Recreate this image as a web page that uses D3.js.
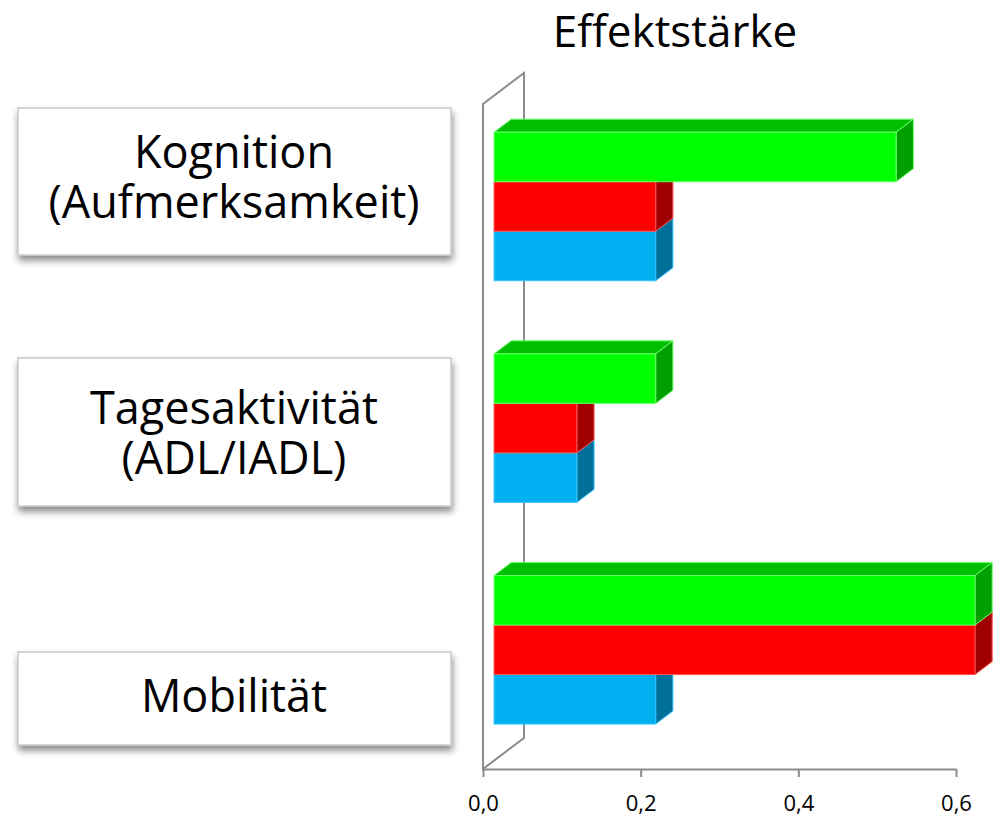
<!DOCTYPE html>
<html>
<head>
<meta charset="utf-8">
<script src="https://cdn.jsdelivr.net/npm/d3@7"></script>
<style>
  html, body { margin: 0; padding: 0; background: #fff; }
  svg { display: block; font-family: "Open Sans", sans-serif; }
</style>
</head>
<body>
<div id="stage"></div>
<script>
(function(d3) {
    'use strict';

    // categories, top to bottom
    var categories = ['Kognition', 'Tagesaktivität', 'Mobilität'];
    var categoryLines = [
        ['Kognition', '(Aufmerksamkeit)'],
        ['Tagesaktivität', '(ADL/IADL)'],
        ['Mobilität']
    ];
    // series, bottom to top inside each group
    var seriesNames = ['Serie 1', 'Serie 2', 'Serie 3'];
    var serie1 = [0.205, 0.105, 0.205];
    var serie2 = [0.205, 0.105, 0.61];
    var serie3 = [0.51, 0.205, 0.61];
    var xTicks = [0, 0.2, 0.4, 0.6];
    var title = 'Effektstärke';

    var seriesValues = [serie1, serie2, serie3];
    var faceColors = ['#00b0f0', '#ff0000', '#00ff00'];
    var topColors = ['#0090c4', '#c00000', '#00bf00'];
    var sideColors = ['#00709a', '#a00000', '#00a000'];
    var edgeColors = ['#33c4ff', '#ff5050', '#66ff66'];

    var width = 1000, height = 817;
    var left = 483, right = 956, top = 104, bottom = 769;
    var wallDx = 41, wallDy = -31;
    var depthFront = 0.27, depthBack = 0.69;

    var svg = d3.select('#stage')
        .append('svg')
        .attr('width', width)
        .attr('height', height);

    var defs = svg.append('defs');
    var shadow = defs.append('filter')
        .attr('id', 'shadow')
        .attr('x', '-10%').attr('y', '-20%')
        .attr('width', '120%').attr('height', '150%');
    shadow.append('feDropShadow')
        .attr('dx', 1).attr('dy', 5)
        .attr('stdDeviation', 3.5)
        .attr('flood-color', '#000')
        .attr('flood-opacity', 0.45);

    var x = d3.scaleLinear()
        .domain([0, 0.6])
        .range([left, right]);

    var y = d3.scaleBand()
        .domain(categories)
        .range([top, bottom])
        .paddingInner(0.33)
        .paddingOuter(0.165);

    var ySeries = d3.scaleBand()
        .domain(seriesNames.slice().reverse())
        .range([0, y.bandwidth()]);

    // side wall outline
    svg.append('path')
        .attr('d', 'M' + left + ',' + bottom +
            'L' + left + ',' + top +
            'L' + (left + wallDx) + ',' + (top + wallDy) +
            'L' + (left + wallDx) + ',' + (bottom + wallDy) + 'Z')
        .style('fill', 'none')
        .style('stroke', '#8c8c8c')
        .style('stroke-width', 2);

    // x axis
    var axis = svg.append('g')
        .attr('transform', 'translate(0,' + bottom + ')')
        .call(d3.axisBottom(x)
            .tickValues(xTicks)
            .tickSize(8)
            .tickSizeOuter(0)
            .tickPadding(18)
            .tickFormat(function(d) { return d3.format('.1f')(d).replace('.', ','); }));
    axis.select('.domain').style('stroke', '#8c8c8c').style('stroke-width', 2);
    axis.selectAll('.tick line').style('stroke', '#8c8c8c').style('stroke-width', 2);
    axis.selectAll('.tick text')
        .style('font-size', '22px')
        .style('font-family', '"Open Sans", sans-serif')
        .style('fill', '#000');

    // bars
    var fdx = depthFront * wallDx, fdy = depthFront * wallDy;
    var ddx = (depthBack - depthFront) * wallDx, ddy = (depthBack - depthFront) * wallDy;

    var bars = [];
    categories.forEach(function(cat, ci) {
        seriesNames.forEach(function(s, si) {
            bars.push({ cat: cat, s: s, si: si, value: seriesValues[si][ci] });
        });
    });

    var barG = svg.selectAll('.bar')
        .data(bars)
        .enter()
        .append('g')
        .attr('class', 'bar');

    function pts(arr) { return arr.map(function(p) { return p.join(','); }).join(' '); }

    barG.each(function(d) {
        var g = d3.select(this);
        var x0 = x(0) + fdx, x1 = x(d.value) + fdx;
        var y0 = y(d.cat) + ySeries(d.s) + fdy;
        var y1 = y0 + ySeries.bandwidth();

        g.append('polygon')
            .attr('points', pts([[x0, y0], [x1, y0], [x1 + ddx, y0 + ddy], [x0 + ddx, y0 + ddy]]))
            .style('fill', topColors[d.si])
            .style('stroke', edgeColors[d.si])
            .style('stroke-width', 1);
        g.append('polygon')
            .attr('points', pts([[x1, y0], [x1 + ddx, y0 + ddy], [x1 + ddx, y1 + ddy], [x1, y1]]))
            .style('fill', sideColors[d.si])
            .style('stroke', edgeColors[d.si])
            .style('stroke-width', 1);
        g.append('rect')
            .attr('x', x0)
            .attr('y', y0)
            .attr('width', x1 - x0)
            .attr('height', y1 - y0)
            .style('fill', faceColors[d.si])
            .style('stroke', edgeColors[d.si])
            .style('stroke-width', 1);
    });

    // title
    svg.append('text')
        .attr('x', 675)
        .attr('y', 47)
        .attr('text-anchor', 'middle')
        .style('font-size', '44px')
        .style('fill', '#000')
        .text(title);

    // category label boxes
    var boxes = [
        { top: 108, height: 147, baseline: 168 },
        { top: 358, height: 148, baseline: 424 },
        { top: 652, height: 93, baseline: 712 }
    ];

    var labels = svg.selectAll('.label')
        .data(categoryLines)
        .enter()
        .append('g')
        .attr('class', 'label');

    labels.append('rect')
        .attr('x', 18)
        .attr('y', function(d, i) { return boxes[i].top; })
        .attr('width', 433)
        .attr('height', function(d, i) { return boxes[i].height; })
        .attr('filter', 'url(#shadow)')
        .style('fill', '#fff')
        .style('stroke', '#c8c8c8')
        .style('stroke-width', 1.5);

    labels.each(function(lines, i) {
        var g = d3.select(this);
        lines.forEach(function(line, li) {
            g.append('text')
                .attr('text-anchor', 'middle')
                .attr('x', 234)
                .attr('y', boxes[i].baseline + li * 50)
                .style('font-size', '45px')
                .style('fill', '#000')
                .text(line);
        });
    });

})(window.d3);
</script>
</body>
</html>
